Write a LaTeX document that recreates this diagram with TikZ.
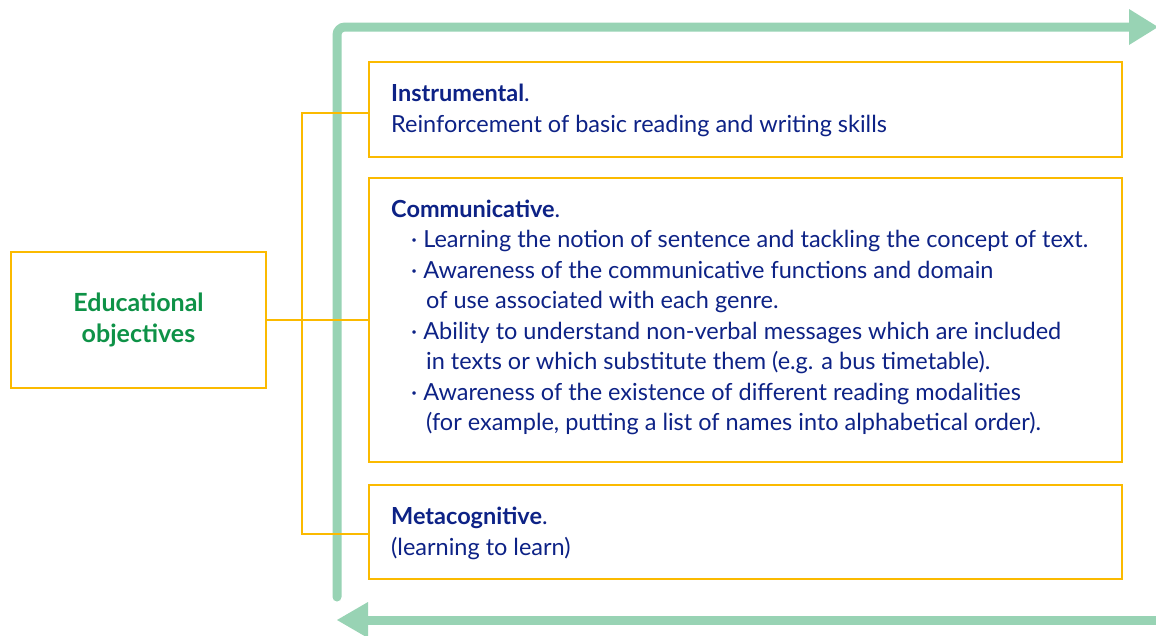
\documentclass[tikz,border=0pt]{standalone}
\usepackage{fontspec}
\setmainfont{Lato}
\definecolor{ybox}{HTML}{FBBA00}
\definecolor{gline}{HTML}{98D3B4}
\definecolor{navy}{HTML}{0D2286}
\definecolor{gtext}{HTML}{0E9247}
\tikzset{
  ybox/.style={draw=ybox, line width=2pt},
  yline/.style={draw=ybox, line width=2pt},
  gpath/.style={draw=gline, line width=9pt},
  txt/.style={anchor=base west, inner sep=0pt, text=navy, font=\fontsize{23.5}{30}\selectfont},
  ttl/.style={txt, font=\fontsize{23.5}{30}\selectfont\bfseries},
}
\begin{document}
\begin{tikzpicture}[x=1pt,y=-1pt]
\clip (0,0) rectangle (1156,635);
\fill[white] (0,0) rectangle (1156,635);
% green arrows
\coordinate (gstart) at (337,597);
\coordinate (gcorner) at (337,27);
\coordinate (gend) at (1131,27);
\draw[gpath, line cap=round, rounded corners=8pt] (gstart) -- (gcorner) -- (gend);
\fill[gline] (1129,9) -- (1158,27) -- (1129,45) -- cycle;
\coordinate (bstart) at (1160,620);
\coordinate (bend) at (366,620);
\draw[gpath] (bstart) -- (bend);
\fill[gline] (368,602) -- (337,620) -- (368,638) -- cycle;
% boxes
\draw[ybox] (11,252) rectangle (266,388);
\node[inner sep=0pt, align=center, text=gtext, font=\fontsize{25}{31}\selectfont\bfseries] (edu) at (138.5,320) {Educational\\objectives};
\coordinate (eduR) at (266,320);
\draw[ybox] (369,62) rectangle (1122,157);
\draw[ybox] (369,178) rectangle (1122,462);
\draw[ybox] (369,485) rectangle (1122,579);
\coordinate (b1L) at (369,113);
\coordinate (b2L) at (369,320);
\coordinate (b3L) at (369,534);
\coordinate (brT) at (302,113);
\coordinate (brB) at (302,534);
\draw[yline] (eduR) -- (b2L);
\draw[yline] (b1L) -- (brT) -- (brB) -- (b3L);
% texts
\node[ttl] (i1) at (391,101) {Instrumental\mdseries.};
\node[txt] (i2) at (391,132) {Reinforcement of basic reading and writing skills};
\node[ttl] (c0) at (391,217) {Communicative\mdseries.};
\node[txt] (c1) at (411,247.5) {\textperiodcentered\ Learning the notion of sentence and tackling the concept of text.};
\node[txt] (c2) at (411,278) {\textperiodcentered\ Awareness of the communicative functions and domain};
\node[txt] (c3) at (426,308.5) {of use associated with each genre.};
\node[txt] (c4) at (411,339) {\textperiodcentered\ Ability to understand non-verbal messages which are included};
\node[txt] (c5) at (426,369.5) {in texts or which substitute them (e.g. a bus timetable).};
\node[txt] (c6) at (411,400) {\textperiodcentered\ Awareness of the existence of different reading modalities};
\node[txt] (c7) at (426,430.5) {(for example, putting a list of names into alphabetical order).};
\node[ttl] (m1) at (391,524) {Metacognitive\mdseries.};
\node[txt] (m2) at (391,555) {(learning to learn)};
\end{tikzpicture}
\end{document}
